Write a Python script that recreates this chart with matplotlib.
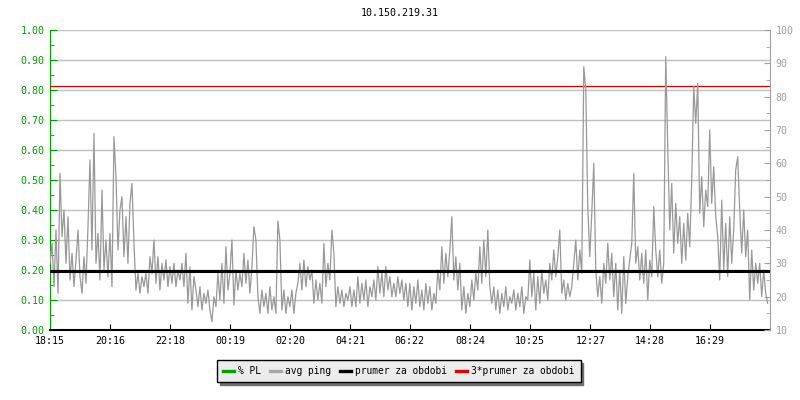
import numpy as np
import matplotlib
matplotlib.use("Agg")
import matplotlib.pyplot as plt
from matplotlib.lines import Line2D
from matplotlib.ticker import MultipleLocator

title = "10.150.219.31"
tick_labels = ["18:15", "20:16", "22:18", "00:19", "02:20", "04:21",
               "06:22", "08:24", "10:25", "12:27", "14:28", "16:29"]
tick_minutes = [0, 121, 243, 364, 485, 606, 727, 849, 970, 1092, 1213, 1334]
x_end_min = 1455
sample_step_min = 4.04

# avg ping in ms (right axis)
ping_ms = [
    30, 36, 23, 40, 21, 57, 38, 46, 30, 44,
    25, 33, 23, 31, 40, 26, 21, 32, 24, 41,
    61, 34, 69, 30, 39, 25, 52, 28, 37, 26,
    39, 23, 68, 56, 34, 46, 50, 32, 44, 30,
    48, 54, 36, 22, 27, 21, 26, 23, 27, 21,
    32, 27, 37, 24, 32, 22, 30, 25, 31, 23,
    29, 24, 30, 23, 28, 25, 30, 23, 33, 18,
    29, 16, 26, 22, 17, 23, 16, 21, 18, 22,
    16, 12.5, 20, 17, 27, 19, 30, 18, 35, 22,
    27, 37, 17.5, 28, 22, 27, 23, 33, 24, 31,
    21, 29, 41, 37, 20, 15, 22, 17, 21, 15,
    23, 16, 20, 15, 42.7, 37, 16, 22, 15, 20,
    17, 22, 15, 21, 24, 30, 22, 31, 23, 29,
    25, 28, 18, 25, 19, 24, 18, 36, 23, 30,
    25, 40, 33, 17, 23, 18, 22, 17, 21, 19,
    23, 17, 22, 17, 26, 18, 24, 19, 25, 17,
    23, 20, 25, 19, 29, 21, 27, 20, 29, 22,
    26, 20, 24, 20, 26, 21, 25, 19, 24, 17,
    24, 16, 23, 18, 25, 17, 22, 16, 24, 18,
    23, 16, 21, 18, 28, 22, 35, 24, 33, 26,
    34, 44, 25, 32, 22, 30, 16, 23, 15, 21,
    17, 25, 19, 27, 22, 35, 24, 37, 26, 40,
    23, 18, 23, 16, 22, 15, 21, 17, 23, 16,
    20, 18, 22, 16, 21, 17, 23, 15, 20, 19,
    31, 20, 27, 16, 26, 18, 28, 21, 25, 19,
    30, 25, 34, 26, 32, 40, 21, 25, 19, 24,
    20, 23, 30, 37, 25, 34, 27, 89, 82, 47,
    32, 45, 60, 28, 20, 26, 18, 30, 24, 36,
    25, 33, 20, 30, 16, 28, 15, 32, 18, 26,
    31, 36, 57, 30, 35, 25, 33, 24, 34, 19,
    31, 26, 47, 34, 26, 34, 24, 30, 92, 65,
    40, 54, 33, 48, 36, 44, 30, 42, 31, 45,
    35, 55, 83, 72, 84, 45, 56, 41, 52, 47,
    70, 48, 59, 44, 38, 25, 49, 28, 42, 26,
    44, 30, 40, 58, 62, 46, 33, 46, 32, 40,
    19, 34, 22, 30, 24, 30, 20, 28, 21, 18,
]
prumer_ms = 27.7
legend_labels = ["% PL", "avg ping", "prumer za obdobi", "3*prumer za obdobi"]
legend_colors = ["#00a000", "#a8a8a8", "#000000", "#e00000"]

FONT = "DejaVu Sans Mono"
FS = 7.2
GREEN = "#00a000"
GRAY_AX = "#a0a0a0"

plt.rcParams["font.family"] = [FONT]
fig = plt.figure(figsize=(8, 4), dpi=100)
ax = fig.add_axes([50 / 800, 70 / 400, 720 / 800, 300 / 400])
ax2 = ax.twinx()

t = np.arange(len(ping_ms)) * sample_step_min

# left axis (% PL)
ax.set_ylim(0, 1)
ax.set_xlim(0, x_end_min)
ax.yaxis.set_minor_locator(MultipleLocator(0.05))
ax.set_yticks(np.arange(0, 1.001, 0.1))
ax.set_yticklabels(["%.2f" % v for v in np.arange(0, 1.001, 0.1)],
                   color=GREEN, fontsize=FS)
ax.grid(axis="y", color="#c0c0c0", linewidth=1)
ax.set_axisbelow(True)
ax.tick_params(axis="y", which="major", direction="in", length=5,
               color=GREEN, pad=4)
ax.tick_params(axis="y", which="minor", direction="in", length=3, color=GREEN)
ax.set_xticks(tick_minutes)
ax.set_xticklabels(tick_labels, fontsize=FS)
ax.tick_params(axis="x", direction="in", length=4, color="black", pad=4)
ax.spines["left"].set_color(GREEN)
ax.spines["bottom"].set_color("black")
ax.spines["bottom"].set_linewidth(1.5)
ax.spines["top"].set_visible(False)
ax.spines["right"].set_visible(False)

# right axis (ping ms)
ax2.set_ylim(10, 100)
ax2.yaxis.set_major_locator(MultipleLocator(10))
ax2.yaxis.set_minor_locator(MultipleLocator(5))
ax2.tick_params(axis="y", which="major", direction="in", length=4,
                color=GRAY_AX, labelcolor=GRAY_AX, labelsize=FS, pad=4)
ax2.tick_params(axis="y", which="minor", direction="in", length=3, color=GRAY_AX)
for s in ["left", "top", "bottom"]:
    ax2.spines[s].set_visible(False)
ax2.spines["right"].set_color(GRAY_AX)

ax2.plot(t, ping_ms, color="#999999", linewidth=0.9, zorder=2)
ax2.axhline(prumer_ms, color="black", linewidth=2.2, zorder=3)
ax2.axhline(3 * prumer_ms, color="#e00000", linewidth=0.9, zorder=1)

fig.text(0.5, 1 - 13 / 400, title, ha="center", va="center", fontsize=FS)

handles = [Line2D([0], [0], color=c, linewidth=2.4) for c in legend_colors]
leg = fig.legend(handles, legend_labels, loc="center", ncol=4,
                 bbox_to_anchor=(399 / 800, 1 - 371 / 400), fontsize=6.9,
                 frameon=True, fancybox=False, handlelength=1.1,
                 handletextpad=0.5, columnspacing=0.9, borderpad=0.6,
                 borderaxespad=0.0,
                 shadow={"color": "#707070", "alpha": 1})
leg.get_frame().set_edgecolor("black")
leg.get_frame().set_facecolor("#ececec")
leg.get_frame().set_linewidth(1)

fig.savefig("out.png", dpi=100)
